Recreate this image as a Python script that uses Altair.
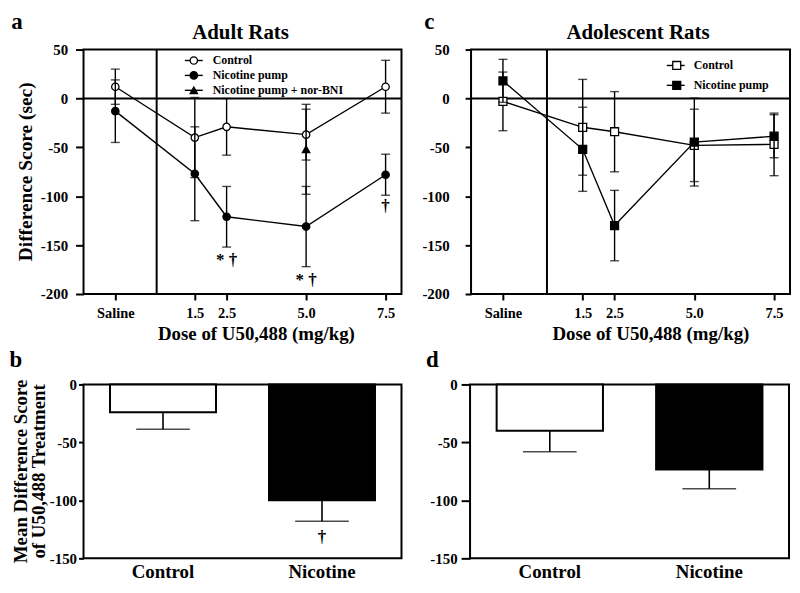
import altair as alt
import pandas as pd

FONT = "Liberation Serif"

# ---------------- data ----------------
# dose axis: Saline placed at -1
doses = [-1, 1.5, 2.5, 5.0, 7.5]
x_tick_labels = ["Saline", "1.5", "2.5", "5.0", "7.5"]
y_ticks_line = [50, 0, -50, -100, -150, -200]
y_ticks_bar = [0, -50, -100, -150]

adult_control = [12, -40, -29, -37, 12]
adult_control_err = [18, 41, 29, 26, 27]
adult_nic = [-13, -77, -121, -131, -78]
adult_nic_err = [32, 48, 31, 41, 21]
adult_norbni_dose = [5.0]
adult_norbni = [-52]
adult_norbni_err = [46]

adol_control = [-3, -29.5, -34, -48, -47]
adol_control_err = [30, 49, 41, 37, 32]
adol_nic = [18, -52, -130, -44.6, -38.6]
adol_nic_err = [22, 43, 36, 45, 22]

bar_groups = ["Control", "Nicotine"]
adult_bar_mean = [-24, -100]
adult_bar_err = [14.6, 18]
adol_bar_mean = [-40, -73.4]
adol_bar_err = [18, 16.6]

ann_a_x = [2.5, 5.0, 7.5]
ann_a_y = [-165, -186, -110]
ann_a_text = ["* \u2020", "* \u2020", "\u2020"]
ann_b_group = ["Nicotine"]
ann_b_y = [-132]
ann_b_text = ["\u2020"]

LINE_H = 246
BAR_H = 175
W_A = 320
W_C = 321

# ---------------- helpers ----------------
label_expr = " : ".join(
    [f"datum.value == {v} ? '{l}'" for v, l in zip(doses, x_tick_labels)]
) + " : ''"
ylabel_expr = "datum.value < 0 ? '-' + (-datum.value) : '' + datum.value"


def X(field):
    return alt.X(
        f"{field}:Q",
        scale=alt.Scale(domain=[-2, 8], nice=False, zero=False),
        axis=alt.Axis(
            values=doses, labelExpr=label_expr, title=None,
            labelFontSize=14.5, tickSize=6, labelPadding=7, labelFlush=False,
        ),
    )


def make_Y(tick_size, label_pad):
    def Y(field):
        return alt.Y(
            f"{field}:Q",
            scale=alt.Scale(domain=[-200, 50], nice=False, zero=False),
            axis=alt.Axis(
                values=y_ticks_line, title=None, labelFontSize=15, labelExpr=ylabel_expr,
                tickSize=tick_size, labelPadding=label_pad, labelFlush=False,
            ),
        )
    return Y


def one():
    return pd.DataFrame({"k": [0]})


def text_at(txt, x, y, size, angle=0, align="center"):
    return alt.Chart(one()).mark_text(font=FONT, fontWeight="bold", fontSize=size, color="black",
                                      align=align, baseline="middle", angle=angle).encode(
        x=alt.value(x), y=alt.value(y), text=alt.value(txt))


def series_df(vals, errs, dose_list):
    return pd.DataFrame({
        "dose": dose_list, "value": vals,
        "lo": [v - e for v, e in zip(vals, errs)],
        "hi": [v + e for v, e in zip(vals, errs)],
    })


def series_layers(df, shape, fill, size, Y, line=True):
    layers = []
    layers.append(alt.Chart(df).mark_rule(color="black", strokeWidth=1.4).encode(
        x=X("dose"), y=Y("lo"), y2="hi"))
    for f in ["lo", "hi"]:
        layers.append(alt.Chart(df).mark_tick(orient="horizontal", color="black", size=9, thickness=1.4).encode(
            x=X("dose"), y=Y(f)))
    if line:
        layers.append(alt.Chart(df).mark_line(color="black", strokeWidth=1.4).encode(
            x=X("dose"), y=Y("value")))
    layers.append(alt.Chart(df).mark_point(shape=shape, filled=True, fill=fill, stroke="black",
                                           strokeWidth=1.3, size=size, opacity=1).encode(
        x=X("dose"), y=Y("value")))
    return layers


def legend_layers(rows, x1, x2, xm, xt, y0, dy, fs):
    layers = []
    for i, (label, shape, fill, size) in enumerate(rows):
        yy = y0 + dy * i
        layers.append(alt.Chart(one()).mark_rule(color="black", strokeWidth=1.4).encode(
            x=alt.value(x1), x2=alt.value(x2), y=alt.value(yy)))
        layers.append(alt.Chart(one()).mark_point(shape=shape, filled=True, fill=fill, stroke="black",
                                                   strokeWidth=1.3, size=size, opacity=1).encode(
            x=alt.value(xm), y=alt.value(yy)))
        layers.append(text_at(label, xt, yy, fs, align="left"))
    return layers


def line_panel(title, title_x, ctrl, ctrl_err, nic, nic_err, shape, divider, Y,
               ytitle_layers, extra_layers, letter_layer, size, xtitle_x, width):
    layers = []
    layers.append(alt.Chart(pd.DataFrame({"value": [0]})).mark_rule(color="black", strokeWidth=2).encode(
        y=Y("value")))
    layers.append(alt.Chart(pd.DataFrame({"dose": [divider]})).mark_rule(color="black", strokeWidth=2).encode(
        x=X("dose")))
    layers += series_layers(series_df(ctrl, ctrl_err, doses), shape, "white", size, Y)
    layers += series_layers(series_df(nic, nic_err, doses), shape, "black", size, Y)
    layers += extra_layers
    layers.append(text_at(title, title_x, -17, 21))
    layers.append(text_at("Dose of U50,488 (mg/kg)", xtitle_x, LINE_H + 40, 19))
    layers += ytitle_layers
    layers.append(letter_layer)
    return alt.layer(*layers).properties(width=width, height=LINE_H)


# ---------------- panel a ----------------
Ya = make_Y(8, 8)
ann_df = pd.DataFrame({"dose": ann_a_x, "value": ann_a_y, "t": ann_a_text})
extra_a = []
extra_a += series_layers(series_df(adult_norbni, adult_norbni_err, adult_norbni_dose),
                         "triangle-up", "black", 55, Ya, line=False)
extra_a.append(alt.Chart(ann_df).mark_text(font=FONT, fontWeight="bold", fontSize=17, color="black",
                                          baseline="middle").encode(
    x=X("dose"), y=Ya("value"), text="t:N"))
extra_a += legend_layers([
    ("Control", "circle", "white", 55),
    ("Nicotine pump", "circle", "black", 55),
    ("Nicotine pump + nor-BNI", "triangle-up", "black", 55),
], 102, 120, 111, 130, 11, 15, 12)

panel_a = line_panel("Adult Rats", 158, adult_control, adult_control_err, adult_nic, adult_nic_err,
                     "circle", 0.3, Ya,
                     [text_at("Difference Score (sec)", -58, LINE_H / 2, 19.5, angle=270)],
                     extra_a, text_at("a", -67, -28, 23), 55, 174, W_A)

# ---------------- panel c ----------------
Yc = make_Y(6, 16)
extra_c = legend_layers([
    ("Control", "square", "white", 64),
    ("Nicotine pump", "square", "black", 64),
], 197, 215, 207, 224, 16, 20, 12)
panel_c = line_panel("Adolescent Rats", 168, adol_control, adol_control_err, adol_nic, adol_nic_err,
                     "square", 0.38, Yc, [], extra_c, text_at("c", -42, -28, 23), 64, 181, W_C)


# ---------------- bar panels ----------------
def bar_panel(means, errs, ytitle_layers, letter_layer, tick_size, label_pad, width, ann=None):
    df = pd.DataFrame({
        "group": bar_groups, "mean": means,
        "lo": [m - e for m, e in zip(means, errs)],
        "fillc": ["white", "black"],
    })
    xenc = alt.X("group:N", sort=bar_groups,
                 scale=alt.Scale(paddingInner=1 / 3, paddingOuter=1 / 6),
                 axis=alt.Axis(title=None, labelAngle=0, labelFontSize=19, ticks=False,
                               labelPadding=4))

    def yenc(f):
        return alt.Y(f"{f}:Q", scale=alt.Scale(domain=[-150, 0], nice=False),
                     axis=alt.Axis(values=y_ticks_bar, title=None, labelFontSize=15,
                                   labelExpr=ylabel_expr,
                                   tickSize=tick_size, labelPadding=label_pad, labelFlush=False))

    layers = [
        alt.Chart(df).mark_rule(color="black", strokeWidth=1.6).encode(x=xenc, y=yenc("mean"), y2="lo"),
        alt.Chart(df).mark_bar(stroke="black", strokeWidth=2).encode(
            x=xenc, y=yenc("mean"), fill=alt.Fill("fillc:N", scale=None)),
        alt.Chart(df).mark_tick(orient="horizontal", color="black", size=54, thickness=1.6).encode(
            x=xenc, y=yenc("lo")),
    ]
    if ann is not None:
        layers.append(alt.Chart(ann).mark_text(font=FONT, fontWeight="bold", fontSize=17, color="black",
                                               baseline="middle").encode(
            x=xenc, y=yenc("value"), text="t:N"))
    layers += ytitle_layers
    layers.append(letter_layer)
    return alt.layer(*layers).properties(width=width, height=BAR_H)


ann_b = pd.DataFrame({"group": ann_b_group, "value": ann_b_y, "t": ann_b_text})
panel_b = bar_panel(adult_bar_mean, adult_bar_err,
                    [text_at("Mean Difference Score", -63, BAR_H / 2, 19, angle=270),
                     text_at("of U50,488 Treatment", -45, BAR_H / 2, 19, angle=270)],
                    text_at("b", -68, -25, 23), 5, 2, W_A, ann_b)
panel_d = bar_panel(adol_bar_mean, adol_bar_err, [], text_at("d", -38, -25, 23), 9, 4, W_C)

chart = alt.vconcat(
    alt.hconcat(panel_a, panel_c, spacing=17),
    alt.hconcat(panel_b, panel_d, spacing=22),
    spacing=3,
).properties(padding={"left": 0, "top": 0, "right": 0, "bottom": 0}).configure(
    font=FONT,
).configure_view(
    stroke="black", strokeWidth=2,
).configure_axis(
    labelFont=FONT, labelFontWeight="bold", labelColor="black",
    titleFont=FONT, titleFontWeight="bold", titleColor="black",
    tickColor="black", tickWidth=2, domain=False, grid=False,
)

chart.save("out.html", embed_options={"renderer": "svg", "actions": False})
